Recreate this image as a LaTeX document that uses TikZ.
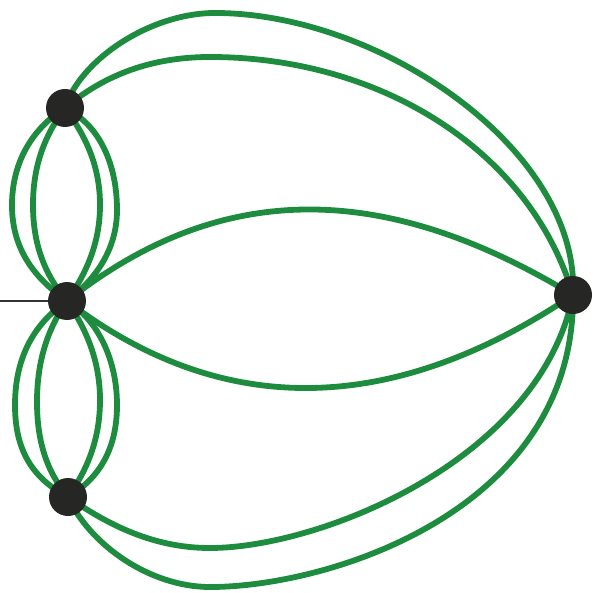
\documentclass[tikz,border=0pt]{standalone}
\usetikzlibrary{backgrounds}
\definecolor{edgegreen}{RGB}{30,140,62}
\definecolor{vertexfill}{RGB}{38,38,36}
\begin{document}
\begin{tikzpicture}[x=1pt,y=-1pt,
  vtx/.style={circle,fill=vertexfill,draw=none,minimum size=38pt,inner sep=0pt},
  gedge/.style={draw=edgegreen,line width=5.8pt},
  lead/.style={draw=black!80,line width=1.8pt}]
\useasboundingbox (0,0) rectangle (593,593);
\node[vtx] (A) at (65,108) {};
\node[vtx] (B) at (67,301) {};
\node[vtx] (C) at (68,497) {};
\node[vtx] (D) at (573,295) {};
\coordinate (L) at (0,301);
\begin{pgfonlayer}{background}
% lead line
\draw[lead] (L) -- (B.center);
% A--D
\draw[gedge] (A.center) .. controls (80,60) and (150,13) .. (215,13)
  .. controls (380,13) and (580,150) .. (D.center);
\draw[gedge] (A.center) .. controls (110,70) and (160,57) .. (210,57)
  .. controls (380,57) and (530,150) .. (D.center);
% B--D lens
\draw[gedge] (B.center) .. controls (220,180) and (383,180) .. (D.center);
\draw[gedge] (B.center) .. controls (220,418) and (390,418) .. (D.center);
% C--D
\draw[gedge] (C.center) .. controls (115,530) and (160,548) .. (210,548)
  .. controls (320,548) and (540,460) .. (D.center);
\draw[gedge] (C.center) .. controls (90,545) and (150,587) .. (210,587)
  .. controls (330,587) and (575,510) .. (D.center);
% A--B loops
\draw[gedge] (A.center) .. controls (30,130) and (12,165) .. (12,205)
  .. controls (12,245) and (30,275) .. (B.center);
\draw[gedge] (A.center) .. controls (45,135) and (33,165) .. (33,205)
  .. controls (33,245) and (45,275) .. (B.center);
\draw[gedge] (A.center) .. controls (85,135) and (100,165) .. (100,205)
  .. controls (100,245) and (85,275) .. (B.center);
\draw[gedge] (A.center) .. controls (100,125) and (117,165) .. (117,210)
  .. controls (117,250) and (95,280) .. (B.center);
% B--C loops
\draw[gedge] (B.center) .. controls (32,325) and (15,360) .. (15,405)
  .. controls (15,450) and (32,478) .. (C.center);
\draw[gedge] (B.center) .. controls (47,330) and (37,362) .. (37,402)
  .. controls (37,442) and (47,472) .. (C.center);
\draw[gedge] (B.center) .. controls (87,330) and (100,362) .. (100,400)
  .. controls (100,440) and (87,470) .. (C.center);
\draw[gedge] (B.center) .. controls (98,320) and (117,360) .. (117,405)
  .. controls (117,448) and (100,478) .. (C.center);
\end{pgfonlayer}
\end{tikzpicture}
\end{document}
